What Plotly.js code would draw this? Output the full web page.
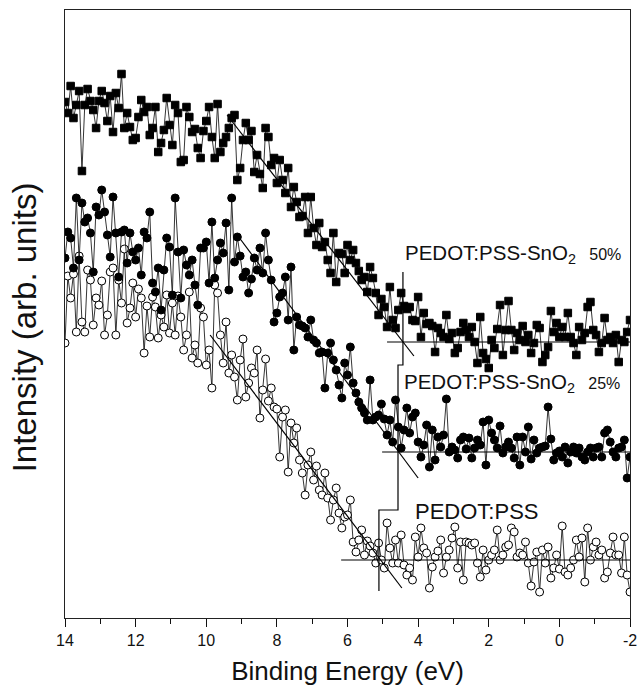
<!DOCTYPE html>
<html>
<head>
<meta charset="utf-8">
<script src="https://cdn.plot.ly/plotly-3.0.1.min.js"></script>
<style>html,body{margin:0;padding:0;background:#fff;}#chart{width:639px;height:691px;}</style>
</head>
<body>
<div id="chart"></div>
<script>
// Binding energy grid (eV)
var energy = [
14, 13.92, 13.84, 13.76, 13.68, 13.6, 13.52, 13.44, 13.36, 13.28, 13.2, 13.12, 13.04, 12.96, 12.88, 12.8, 12.72, 12.64, 12.56, 12.48, 12.4, 12.32, 12.24, 12.16, 12.08,
12, 11.92, 11.84, 11.76, 11.68, 11.6, 11.52, 11.44, 11.36, 11.28, 11.2, 11.12, 11.04, 10.96, 10.88, 10.8, 10.72, 10.64, 10.56, 10.48, 10.4, 10.32, 10.24, 10.16, 10.08,
10, 9.92, 9.84, 9.76, 9.68, 9.6, 9.52, 9.44, 9.36, 9.28, 9.2, 9.12, 9.04, 8.96, 8.88, 8.8, 8.72, 8.64, 8.56, 8.48, 8.4, 8.32, 8.24, 8.16, 8.08,
8, 7.92, 7.84, 7.76, 7.68, 7.6, 7.52, 7.44, 7.36, 7.28, 7.2, 7.12, 7.04, 6.96, 6.88, 6.8, 6.72, 6.64, 6.56, 6.48, 6.4, 6.32, 6.24, 6.16, 6.08,
6, 5.92, 5.84, 5.76, 5.68, 5.6, 5.52, 5.44, 5.36, 5.28, 5.2, 5.12, 5.04, 4.96, 4.88, 4.8, 4.72, 4.64, 4.56, 4.48, 4.4, 4.32, 4.24, 4.16, 4.08,
4, 3.92, 3.84, 3.76, 3.68, 3.6, 3.52, 3.44, 3.36, 3.28, 3.2, 3.12, 3.04, 2.96, 2.88, 2.8, 2.72, 2.64, 2.56, 2.48, 2.4, 2.32, 2.24, 2.16, 2.08,
2, 1.92, 1.84, 1.76, 1.68, 1.6, 1.52, 1.44, 1.36, 1.28, 1.2, 1.12, 1.04, 0.96, 0.88, 0.8, 0.72, 0.64, 0.56, 0.48, 0.4, 0.32, 0.24, 0.16, 0.08,
0, -0.08, -0.16, -0.24, -0.32, -0.4, -0.48, -0.56, -0.64, -0.72, -0.8, -0.88, -0.96, -1.04, -1.12, -1.2, -1.28, -1.36, -1.44, -1.52, -1.6, -1.68, -1.76, -1.84, -1.92,
-2];

// PEDOT:PSS-SnO2 50% (filled squares)
var sno2_50 = [
516, 505, 532, 500, 513, 527, 447, 513, 529, 517, 508, 490, 517, 527, 515, 497, 522, 486, 525, 510, 544, 490, 505, 491, 478,
480, 501, 518, 506, 511, 483, 490, 511, 466, 475, 488, 520, 493, 473, 513, 505, 456, 458, 511, 501, 486, 489, 470, 460, 487,
497, 511, 481, 460, 514, 466, 475, 481, 490, 500, 503, 438, 450, 478, 495, 478, 487, 446, 463, 444, 430, 490, 481, 453, 460,
435, 458, 438, 425, 450, 411, 431, 416, 401, 402, 421, 385, 421, 390, 373, 395, 371, 376, 358, 345, 385, 336, 365, 364, 345,
373, 358, 368, 355, 347, 338, 341, 326, 351, 340, 325, 303, 319, 311, 291, 331, 298, 290, 308, 325, 312, 309, 311, 298, 297,
321, 281, 305, 294, 295, 292, 266, 290, 285, 281, 303, 279, 285, 265, 270, 286, 295, 288, 281, 291, 276, 255, 301, 265, 259,
250, 278, 270, 289, 313, 263, 288, 317, 288, 268, 285, 278, 292, 276, 283, 265, 275, 293, 290, 256, 263, 271, 307, 286, 295,
281, 291, 281, 305, 281, 275, 263, 291, 278, 285, 311, 316, 288, 283, 266, 275, 300, 278, 281, 275, 283, 256, 278, 276, 286,
298];

// PEDOT:PSS-SnO2 25% (filled circles)
var sno2_25 = [
360, 386, 380, 350, 420, 358, 415, 396, 400, 385, 346, 411, 403, 428, 406, 383, 361, 421, 385, 341, 386, 388, 355, 385, 366,
358, 370, 343, 386, 380, 406, 335, 326, 350, 308, 348, 380, 371, 323, 420, 366, 320, 368, 353, 343, 358, 333, 313, 370, 370,
376, 335, 396, 340, 358, 375, 365, 395, 328, 420, 356, 381, 362, 341, 346, 325, 339, 360, 348, 370, 345, 385, 358, 338, 296,
305, 321, 325, 341, 298, 351, 268, 301, 293, 292, 290, 281, 298, 278, 275, 265, 266, 230, 265, 275, 258, 248, 233, 220, 255,
243, 271, 235, 225, 216, 210, 205, 198, 238, 198, 201, 203, 214, 199, 183, 198, 176, 218, 191, 170, 188, 210, 185, 201, 205,
176, 161, 173, 193, 151, 188, 158, 181, 171, 183, 219, 166, 171, 168, 160, 178, 181, 169, 180, 160, 170, 178, 173, 196, 153,
198, 185, 178, 170, 192, 165, 171, 176, 170, 160, 181, 153, 181, 166, 191, 159, 178, 165, 170, 171, 172, 211, 179, 158, 165,
167, 161, 171, 155, 166, 171, 165, 170, 161, 158, 166, 170, 161, 170, 171, 161, 185, 188, 176, 166, 161, 170, 171, 178, 140,
161];

// PEDOT:PSS (open circles)
var pedot = [
275, 342, 320, 344, 286, 362, 296, 286, 348, 338, 293, 320, 313, 337, 283, 303, 346, 350, 283, 338, 315, 369, 295, 310, 335,
301, 329, 320, 265, 312, 281, 321, 311, 280, 303, 291, 323, 285, 315, 283, 322, 301, 268, 283, 326, 260, 273, 255, 310, 301,
253, 268, 230, 333, 325, 283, 255, 296, 245, 263, 241, 218, 258, 279, 221, 235, 250, 245, 268, 200, 228, 259, 217, 230, 211,
209, 161, 201, 208, 146, 195, 175, 190, 158, 145, 123, 153, 166, 138, 152, 128, 123, 145, 120, 98, 118, 130, 105, 90, 101,
103, 118, 76, 66, 78, 88, 63, 77, 72, 65, 55, 75, 58, 50, 95, 70, 55, 78, 55, 83, 53, 43, 50, 38, 81,
61, 90, 70, 65, 30, 51, 61, 67, 78, 45, 61, 68, 80, 91, 50, 76, 38, 76, 75, 73, 75, 55, 41, 68, 48,
58, 63, 68, 88, 58, 63, 71, 73, 90, 86, 61, 65, 63, 76, 55, 32, 56, 66, 26, 68, 55, 71, 40, 50, 63,
49, 92, 46, 43, 50, 58, 78, 61, 80, 36, 90, 58, 71, 76, 63, 68, 40, 46, 65, 81, 63, 63, 45, 81, 43,
26];

// Linear fits of the leading edges and the flat backgrounds
var fit50X = [9.41, 4.12],  fit50Y = [503, 262];
var base50X = [4.88, -2],   base50Y = [276, 276];
var fit25X = [9.10, 4.00],  fit25Y = [382, 140];
var base25X = [5.02, -2],   base25Y = [166, 166];
var fitPX = [9.89, 4.46],   fitPY = [283, 30];
var basePX = [6.18, -2],    basePY = [58, 58];
// onset markers (drop lines)
var onsetX = [4.43, 4.43, 4.57, 4.57, 5.11, 5.11];
var onsetY = [346, 253, 253, 108, 108, 27];

// Axis ticks
var tickVals = [14, 12, 10, 8, 6, 4, 2, 0, -2];
var tickText = ['14', '12', '10', '8', '6', '4', '2', '0', '-2'];
var minorVals = [13, 11, 9, 7, 5, 3, 1, -1];

var FONT = '"Liberation Sans", Arial, Helvetica, sans-serif';
var lineCol = '#1e1e1e';

function dataTrace(y, symbol, fill) {
  return {
    x: energy, y: y, type: 'scatter', mode: 'lines+markers',
    line: {color: lineCol, width: 0.9},
    marker: {symbol: symbol, size: symbol === 'square' ? 7.5 : 8, color: fill,
             line: {color: '#000', width: 1}},
    hoverinfo: 'skip'
  };
}
function lineTrace(x, y) {
  return {x: x, y: y, type: 'scatter', mode: 'lines',
          line: {color: '#000', width: 1.2}, hoverinfo: 'skip'};
}

var traces = [
  dataTrace(pedot, 'circle', '#ffffff'),
  dataTrace(sno2_25, 'circle', '#000000'),
  dataTrace(sno2_50, 'square', '#000000'),
  lineTrace(fit50X, fit50Y), lineTrace(base50X, base50Y),
  lineTrace(fit25X, fit25Y), lineTrace(base25X, base25Y),
  lineTrace(fitPX, fitPY), lineTrace(basePX, basePY),
  lineTrace(onsetX, onsetY)
];

var layout = {
  width: 639, height: 691,
  margin: {l: 65, r: 9, t: 10, b: 73},
  paper_bgcolor: '#fff', plot_bgcolor: '#fff',
  showlegend: false,
  font: {family: FONT, color: '#111'},
  xaxis: {
    range: [14, -2], tickmode: 'array', tickvals: tickVals, ticktext: tickText,
    ticks: 'outside', ticklen: 8, tickwidth: 1, tickcolor: '#111',
    minor: {tickvals: minorVals, ticks: 'outside', ticklen: 5, tickwidth: 1, tickcolor: '#111', showgrid: false},
    showgrid: false, zeroline: false,
    showline: true, linecolor: '#222', linewidth: 1.2, mirror: true,
    tickfont: {family: FONT, size: 16, color: '#111'},
    title: {text: 'Binding Energy (eV)', font: {family: FONT, size: 26, color: '#111'}, standoff: 13}
  },
  yaxis: {
    range: [0, 608], showticklabels: false, ticks: '',
    showgrid: false, zeroline: false,
    showline: true, linecolor: '#222', linewidth: 1.2, mirror: true
  },
  annotations: [
    {x: -0.072, y: 0.4786, xref: 'paper', yref: 'paper', xanchor: 'center', yanchor: 'middle',
     showarrow: false, textangle: -90, text: 'Intensity (arb. units)',
     font: {family: FONT, size: 33, color: '#111'}},
    {x: 4.43, y: 364, xref: 'x', yref: 'y', xanchor: 'left', yanchor: 'middle', showarrow: false,
     text: 'PEDOT:PSS-SnO<sub>2</sub><span style="font-size:16px">&nbsp;&nbsp; 50%</span>',
     font: {family: FONT, size: 20.5, color: '#111'}},
    {x: 4.46, y: 235, xref: 'x', yref: 'y', xanchor: 'left', yanchor: 'middle', showarrow: false,
     text: 'PEDOT:PSS-SnO<sub>2</sub><span style="font-size:16px">&nbsp;&nbsp; 25%</span>',
     font: {family: FONT, size: 20.5, color: '#111'}},
    {x: 4.14, y: 107, xref: 'x', yref: 'y', xanchor: 'left', yanchor: 'middle', showarrow: false,
     text: 'PEDOT:PSS',
     font: {family: FONT, size: 22, color: '#111'}}
  ]
};

Plotly.newPlot('chart', traces, layout, {displayModeBar: false, staticPlot: true});
</script>
</body>
</html>
